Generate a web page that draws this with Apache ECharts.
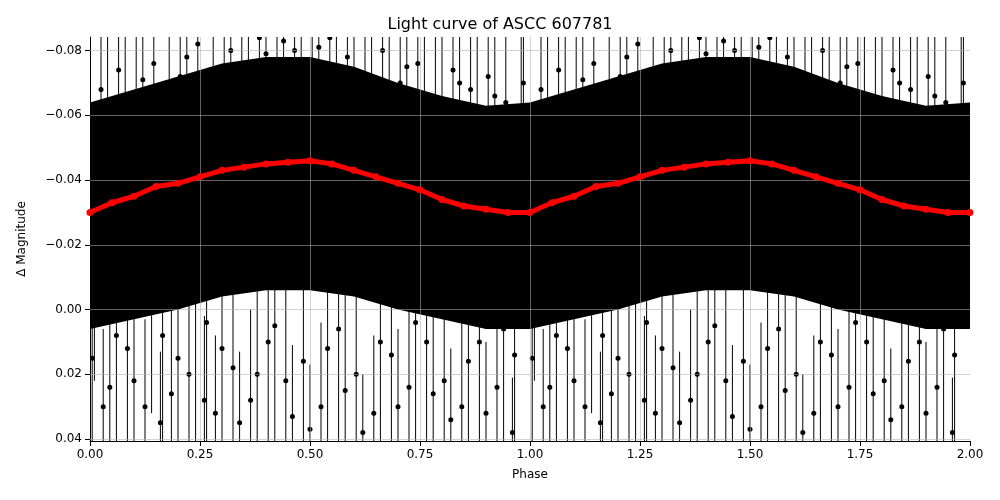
<!DOCTYPE html>
<html>
<head>
<meta charset="UTF-8">
<title>Light curve</title>
<style>
  html, body { margin: 0; padding: 0; background: #fff; }
  #chart { width: 1000px; height: 500px; }
</style>
<script src="https://cdn.jsdelivr.net/npm/echarts@6/dist/echarts.min.js"></script>
</head>
<body>
<div id="chart"></div>
<script>
// binned mean (red), one cycle, phase step 0.05
var binPhase = [0,0.05,0.1,0.15,0.2,0.25,0.3,0.35,0.4,0.45,0.5,0.55,0.6,0.65,0.7,0.75,0.8,0.85,0.9,0.95,1.0];
var binMag = [-0.030,-0.033,-0.035,-0.038,-0.039,-0.041,-0.043,-0.044,-0.045,-0.0455,-0.046,-0.045,-0.043,-0.041,-0.039,-0.037,-0.034,-0.032,-0.031,-0.030,-0.030];
// dense core of the point cloud (upper / lower edge), phase step 0.1
var corePhase = [0,0.1,0.2,0.3,0.4,0.5,0.6,0.7,0.8,0.9,1.0];
var coreTop = [-0.064,-0.068,-0.072,-0.076,-0.078,-0.078,-0.075,-0.070,-0.066,-0.063,-0.064];
var coreBottom = [0.006,0.003,0.000,-0.004,-0.006,-0.006,-0.004,0.000,0.003,0.006,0.006];
// individual measurements with error bars: [phase, mag, err]
var obs = [
  [0.01,-0.020,0.030],[0.03,0.030,0.012],[0.04,-0.062,0.020],[0.06,0.008,0.025],[0.08,-0.050,0.030],
  [0.10,0.022,0.015],[0.12,-0.071,0.015],[0.14,-0.010,0.030],[0.16,0.035,0.010],[0.18,-0.065,0.020],
  [0.20,0.015,0.025],[0.22,-0.078,0.010],[0.24,-0.005,0.035],[0.26,0.028,0.014],[0.28,-0.074,0.012],
  [0.30,0.012,0.030],[0.32,-0.080,0.008],[0.34,0.035,0.010],[0.36,-0.060,0.025],[0.38,0.020,0.020],
  [0.40,-0.079,0.008],[0.42,0.005,0.030],[0.44,-0.083,0.005],[0.46,0.033,0.010],[0.48,-0.070,0.015],
  [0.50,0.037,0.008],[0.52,-0.081,0.006],[0.54,0.012,0.028],[0.56,-0.074,0.012],[0.58,0.025,0.018],
  [0.60,-0.068,0.018],[0.62,0.038,0.006],[0.64,-0.072,0.015],[0.66,0.010,0.025],[0.68,-0.060,0.022],
  [0.70,0.030,0.012],[0.72,-0.075,0.010],[0.74,0.004,0.030],[0.76,-0.066,0.018],[0.78,0.026,0.015],
  [0.80,-0.058,0.025],[0.82,0.034,0.010],[0.84,-0.070,0.012],[0.86,0.016,0.022],[0.88,-0.052,0.030],
  [0.90,0.032,0.010],[0.92,-0.066,0.015],[0.94,0.006,0.028],[0.96,0.038,0.005],[0.98,-0.060,0.020],
  [0.005,0.015,0.020],[0.025,-0.068,0.012],[0.045,0.024,0.018],[0.065,-0.074,0.010],[0.085,0.012,0.026],
  [0.105,-0.060,0.022],[0.125,0.030,0.015],[0.145,-0.076,0.009],[0.165,0.008,0.028],[0.185,0.026,0.016],
  [0.205,-0.072,0.014],[0.225,0.020,0.022],[0.245,-0.082,0.006],[0.265,0.004,0.030],[0.285,0.032,0.012],
  [0.305,-0.066,0.020],[0.325,0.018,0.024],[0.345,-0.076,0.012],[0.365,0.028,0.016],[0.385,-0.084,0.006],
  [0.405,0.010,0.026],[0.425,-0.072,0.014],[0.445,0.022,0.020],[0.465,-0.080,0.010],[0.485,0.016,0.024],
  [0.505,-0.074,0.014],[0.525,0.030,0.014],[0.545,-0.084,0.006],[0.565,0.006,0.030],[0.585,-0.078,0.010],
  [0.605,0.020,0.022],[0.625,-0.062,0.022],[0.645,0.032,0.012],[0.665,-0.080,0.008],[0.685,0.014,0.026],
  [0.705,-0.070,0.016],[0.725,0.024,0.018],[0.745,-0.076,0.010],[0.765,0.010,0.028],[0.785,-0.064,0.020],
  [0.805,0.022,0.020],[0.825,-0.074,0.012],[0.845,0.030,0.014],[0.865,-0.068,0.014],[0.885,0.010,0.026],
  [0.905,-0.072,0.012],[0.925,0.024,0.018],[0.945,-0.064,0.018],[0.965,0.014,0.024],[0.985,-0.070,0.014]
];

function shift(arr, dx) { return arr.map(function (p) { return [p[0] + dx].concat(p.slice(1)); }); }
var redPts = [], topPts = [], botPts = [], obsPts = [];
[0, 1].forEach(function (c) {
  binPhase.forEach(function (p, i) { if (c === 0 || i > 0) redPts.push([p + c, binMag[i]]); });
  corePhase.forEach(function (p, i) { if (c === 0 || i > 0) { topPts.push([p + c, coreTop[i]]); botPts.push([p + c, coreBottom[i]]); } });
  obsPts = obsPts.concat(shift(obs, c));
});
var bandPts = topPts.concat(botPts.slice().reverse());

var yTicks = [-0.08, -0.06, -0.04, -0.02, 0, 0.02, 0.04];
var grid = [];
yTicks.forEach(function (v) { grid.push({ yAxis: v }); });
[0.25, 0.5, 0.75, 1, 1.25, 1.5, 1.75].forEach(function (v) { grid.push({ xAxis: v }); });

var chart = echarts.init(document.getElementById('chart'));
chart.setOption({
  animation: false,
  title: { text: 'Light curve of ASCC 607781', left: 'center', top: 12,
    textStyle: { fontFamily: 'DejaVu Sans', fontSize: 16, fontWeight: 'normal', color: '#000' } },
  grid: { left: 90, right: 30, top: 37, bottom: 59 },
  xAxis: {
    type: 'value', min: 0, max: 2, interval: 0.25,
    name: 'Phase', nameLocation: 'middle', nameGap: 28,
    nameTextStyle: { fontFamily: 'DejaVu Sans', fontSize: 12, color: '#000' },
    axisLine: { onZero: false, lineStyle: { color: '#000' } },
    axisTick: { lineStyle: { color: '#000' } },
    axisLabel: { color: '#000', fontFamily: 'DejaVu Sans', fontSize: 12, formatter: function (v) { return v.toFixed(2); } },
    splitLine: { show: false }
  },
  yAxis: {
    type: 'value', inverse: true, min: -0.0842, max: 0.0406,
    name: 'Δ Magnitude', nameLocation: 'middle', nameGap: 62,
    nameTextStyle: { fontFamily: 'DejaVu Sans', fontSize: 12, color: '#000' },
    axisLine: { show: true, lineStyle: { color: '#000' } },
    axisTick: { show: true, customValues: yTicks, lineStyle: { color: '#000' } },
    axisLabel: { color: '#000', fontFamily: 'DejaVu Sans', fontSize: 12, customValues: yTicks,
      formatter: function (v) { return (v < 0 ? '\u2212' + (-v).toFixed(2) : v.toFixed(2)); } },
    splitLine: { show: false }
  },
  series: [
    {
      type: 'custom', silent: true, z: 1, clip: true,
      renderItem: function (params, api) {
        var pts = bandPts.map(function (p) { return api.coord(p); });
        return { type: 'polygon', shape: { points: pts }, style: { fill: '#000' } };
      },
      data: [[0, 0]]
    },
    {
      type: 'custom', z: 2, clip: true,
      renderItem: function (params, api) {
        var x = api.value(0), y = api.value(1), e = api.value(2) + 0.012;
        var a = api.coord([x, y - e]), b = api.coord([x, y + e]), m = api.coord([x, y]);
        return { type: 'group', children: [
          { type: 'line', shape: { x1: a[0], y1: a[1], x2: b[0], y2: b[1] }, style: { stroke: '#000', lineWidth: 1 } },
          { type: 'circle', shape: { cx: m[0], cy: m[1], r: 2.5 }, style: { fill: '#000' } }
        ] };
      },
      data: obsPts
    },
    {
      type: 'line', data: redPts, symbol: 'circle', symbolSize: 7, z: 4,
      itemStyle: { color: '#ff0000' }, lineStyle: { color: '#ff0000', width: 5 },
      markLine: { silent: true, symbol: 'none', label: { show: false }, z: 3,
        lineStyle: { color: '#b0b0b0', width: 0.8, type: 'solid', opacity: 0.7 }, data: grid }
    }
  ]
});
</script>
</body>
</html>
